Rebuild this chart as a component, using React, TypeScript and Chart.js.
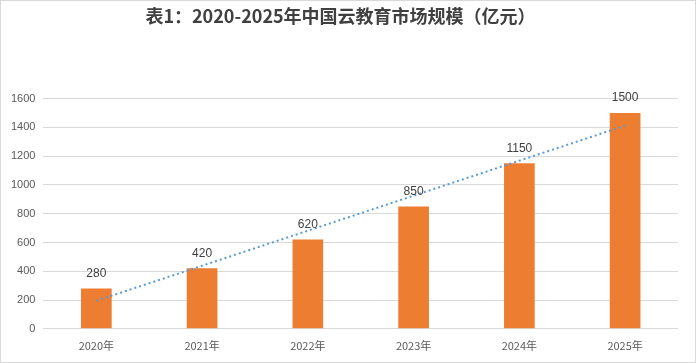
import React, { useEffect, useRef } from "react";
import Chart from "chart.js/auto";

const categories = ["2020年", "2021年", "2022年", "2023年", "2024年", "2025年"];
const marketSize = [280, 420, 620, 850, 1150, 1500];
// linear trendline (start and end only)
const trendLine = [195, null, null, null, null, 1412];
const titleText = "表1：2020-2025年中国云教育市场规模（亿元）";

const labelPlugin = {
  id: "barLabels",
  afterDatasetsDraw(chart: any) {
    const { ctx } = chart;
    const meta = chart.getDatasetMeta(0);
    ctx.save();
    ctx.font = "12px 'Liberation Sans', Arial, sans-serif";
    ctx.fillStyle = "#404040";
    ctx.textAlign = "center";
    ctx.textBaseline = "bottom";
    meta.data.forEach((bar: any, i: number) => {
      ctx.fillText(String(marketSize[i]), bar.x, bar.y - 9);
    });
    ctx.restore();
  },
};

const borderPlugin = {
  id: "outerBorder",
  afterDraw(chart: any) {
    const { ctx, width, height } = chart;
    ctx.save();
    ctx.strokeStyle = "#d9d9d9";
    ctx.lineWidth = 1;
    ctx.strokeRect(0.5, 0.5, width - 1, height - 1);
    ctx.restore();
  },
};

export default function App() {
  const ref = useRef<HTMLCanvasElement>(null);
  useEffect(() => {
    document.body.style.margin = "0";
    const chart = new Chart(ref.current!, {
      type: "bar",
      data: {
        labels: categories,
        datasets: [
          {
            type: "bar",
            data: marketSize,
            backgroundColor: "#ED7D31",
            categoryPercentage: 1,
            barPercentage: 0.29,
            order: 2,
          },
          {
            type: "line",
            data: trendLine as any,
            borderColor: "#5B9BD5",
            borderWidth: 2,
            borderDash: [2, 3],
            pointRadius: 0,
            spanGaps: true,
            fill: false,
            order: 1,
          },
        ],
      },
      options: {
        animation: false,
        responsive: false,
        layout: { padding: { left: 3, right: 18, top: 0, bottom: 1 } },
        plugins: {
          legend: { display: false },
          tooltip: { enabled: false },
          title: {
            display: true,
            text: titleText,
            color: "#404040",
            font: { family: "'Noto Sans CJK SC', sans-serif", size: 18, weight: "bold" },
            padding: { top: 5, bottom: 72 },
          },
        },
        scales: {
          x: {
            grid: { display: false, drawTicks: false },
            border: { display: false },
            ticks: {
              color: "#595959",
              font: { family: "'Noto Sans CJK SC', sans-serif", size: 11 },
              padding: 10,
            },
          },
          y: {
            min: 0,
            max: 1600,
            grid: { color: "#d9d9d9", drawTicks: false },
            border: { display: false },
            ticks: {
              stepSize: 200,
              color: "#595959",
              font: { family: "'Liberation Sans', Arial, sans-serif", size: 11 },
              padding: 8,
              callback: (v: any) => String(v),
            },
          },
        },
      },
      plugins: [labelPlugin, borderPlugin],
    });
    return () => chart.destroy();
  }, []);
  return <canvas ref={ref} width={696} height={363} style={{ display: "block" }} />;
}
